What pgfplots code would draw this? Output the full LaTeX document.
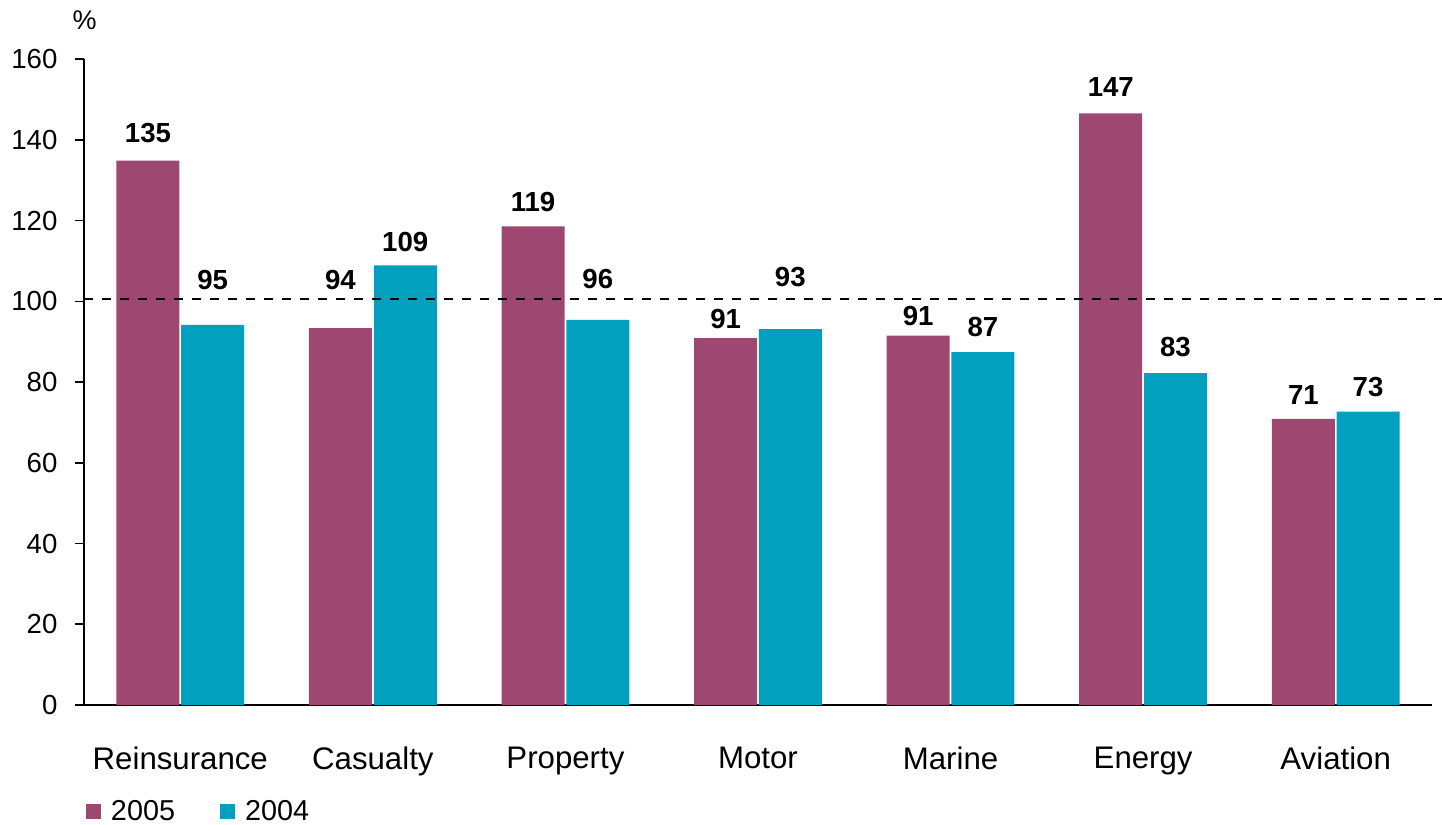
\documentclass[border=0pt]{standalone}
\usepackage{pgfplots}
\pgfplotsset{compat=1.18}
\usepackage{fontspec}
\setmainfont{Liberation Sans}
\definecolor{c05}{HTML}{9E4770}
\definecolor{c04}{HTML}{00A0BE}
\begin{document}
\begin{tikzpicture}
\begin{axis}[
  scale only axis, width=674pt, height=322.9pt,
  xmin=-0.5, xmax=6.5, ymin=0, ymax=160,
  axis x line=bottom, axis y line=left,
  axis line style={-, line width=0.8pt, black},
  xtick={0,...,6},
  xticklabels={Reinsurance,Casualty,Property,Motor,Marine,Energy,Aviation},
  ytick={0,20,...,160},
  x tick style={draw=none},
  y tick style={line width=0.8pt, black},
  tick align=outside, major tick length=4.5pt,
  /pgf/number format/assume math mode=true,
  yticklabel style={font=\fontsize{13.8}{16}\selectfont, inner sep=0pt, anchor=east, xshift=-8.6pt},
  xticklabel style={font=\fontsize{15.6}{18}\selectfont, inner sep=0pt, anchor=north, yshift=-16.2pt},
  clip=false,
  legend columns=2,
  legend style={draw=none, fill=none, at={(0,0)}, anchor=north west, xshift=1pt, yshift=-47.5pt,
    inner sep=0pt, outer sep=0pt, nodes={inner sep=0pt},
    font=\fontsize{14.4}{16}\selectfont,
    /tikz/every odd column/.append style={column sep=5pt},
    /tikz/every even column/.append style={column sep=22.5pt}},
  legend image code/.code={\fill[#1] (0pt,-3.75pt) rectangle (7.5pt,3.75pt);},
]
\addplot[ybar, bar width=31.5pt, bar shift=-16.2pt, fill=c05, draw=none] coordinates {
  (0,134.9) (1,93.4) (2,118.6) (3,90.9) (4,91.5) (5,146.6) (6,70.9)};
\addlegendentry{2005}
\addplot[ybar, bar width=31.5pt, bar shift=16.2pt, fill=c04, draw=none] coordinates {
  (0,94.2) (1,108.9) (2,95.4) (3,93.1) (4,87.4) (5,82.2) (6,72.7)};
\addlegendentry{2004}
\addplot[forget plot, black, line width=1.35pt, dash pattern=on 4.6pt off 4.4pt] coordinates {(-0.5,100.6) (6.555,100.6)};
\addplot[forget plot, only marks, mark=none, nodes near coords, point meta=explicit symbolic,
  nodes near coords style={anchor=center, inner sep=0pt, font=\bfseries\fontsize{13.8}{16}\selectfont}]
  table[meta=lab] {
x y lab
-0.168 141.7 135
0.168 105.3 95
0.832 105.3 94
1.168 114.8 109
1.832 124.7 119
2.168 105.5 96
2.832 95.6 91
3.168 106.1 93
3.832 96.4 91
4.168 93.7 87
4.832 153.0 147
5.168 88.6 83
5.832 76.8 71
6.168 78.9 73
};
\node[font=\fontsize{13.5}{16}\selectfont, inner sep=0pt] at (axis description cs:0,1) [xshift=0.35pt, yshift=19.7pt] {\%};
\end{axis}
\pgfresetboundingbox
\useasboundingbox (-42pt,-60pt) rectangle (679pt,352.5pt);
\end{tikzpicture}
\end{document}
